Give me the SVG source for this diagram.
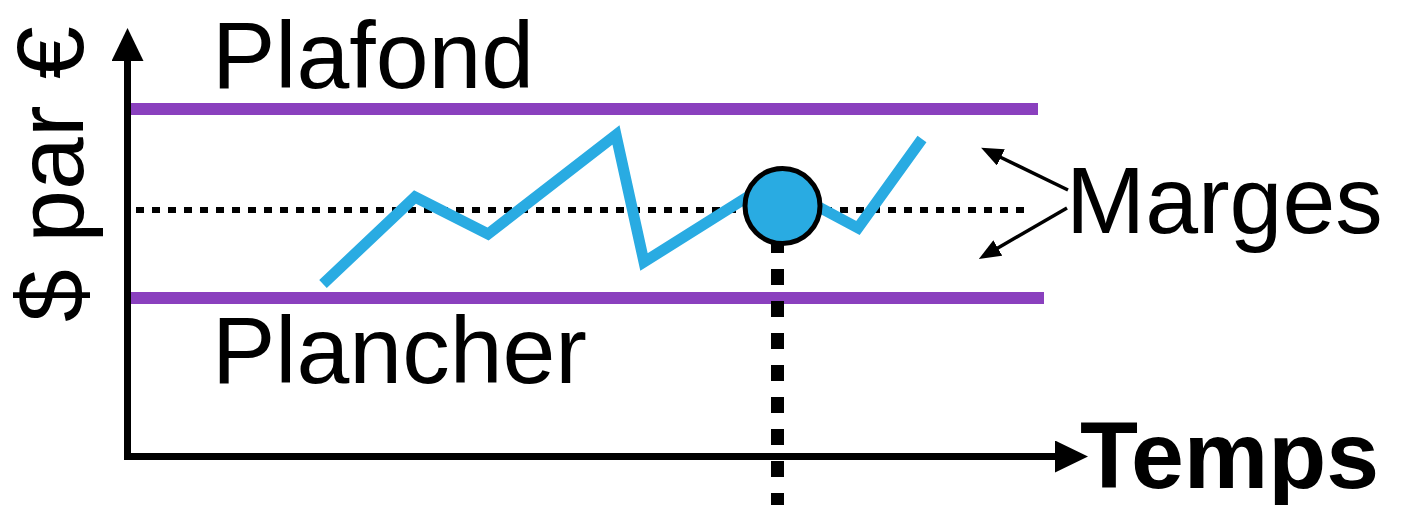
<svg xmlns="http://www.w3.org/2000/svg" width="1401" height="505" viewBox="0 0 1401 505">
<style>
.lbl{font-family:"Liberation Sans",Arial,sans-serif;font-size:95px;fill:#000}
.bold{font-weight:bold}
.axis{stroke:#000;stroke-width:7;fill:none}
.limit{stroke:#8A40BE;stroke-width:12;fill:none}
.mid{stroke:#000;stroke-width:6;stroke-dasharray:8 8;fill:none}
.vdot{stroke:#000;stroke-width:13;stroke-dasharray:16 16;fill:none}
.price{stroke:#29ABE2;stroke-width:11;fill:none;stroke-linejoin:miter;stroke-miterlimit:10}
.thin{stroke:#000;stroke-width:3.5;fill:none}
</style>
<defs>
<marker id="axh" markerUnits="userSpaceOnUse" viewBox="0 -16 33 32" refX="1" refY="0" markerWidth="33" markerHeight="32" orient="auto"><path d="M0,-16L33,0L0,16z" fill="#000"/></marker>
<marker id="mh" markerUnits="userSpaceOnUse" viewBox="0 -9 22 18" refX="1" refY="0" markerWidth="22" markerHeight="18" orient="auto"><path d="M0,-9L22,0L0,9z" fill="#000"/></marker>
</defs>
<g id="limits">
<line class="limit" x1="124" y1="109" x2="1038" y2="109"/>
<line class="limit" x1="130" y1="298" x2="1044" y2="298"/>
</g>
<g id="connectors">
<path class="vdot" d="M777.5,237V520"/>
<path class="mid" d="M136,210H1026"/>
<path class="axis" d="M127.5,460V60" marker-end="url(#axh)"/>
<path class="axis" d="M124,456.5H1056" marker-end="url(#axh)"/>
<path class="thin" d="M1068,190L1000,157" marker-end="url(#mh)"/>
<path class="thin" d="M1067,208L997,248.5" marker-end="url(#mh)"/>
</g>
<g id="price">
<polyline class="price" points="323,284 415,197 488,234 616,135 644,262 760,189 800,197 858,228 922,139"/>
</g>
<g id="point">
<circle cx="782.5" cy="206" r="37.5" fill="#29ABE2" stroke="#000" stroke-width="5"/>
</g>
<g id="labels">
<text class="lbl" x="212" y="88">Plafond</text>
<text class="lbl" x="212" y="383">Plancher</text>
<text class="lbl" x="1066" y="233">Marges</text>
<text class="lbl bold" x="1080" y="488">Temps</text>
<text class="lbl" font-size="97" transform="translate(83,322) rotate(-90)">$ par €</text>
</g>
</svg>
